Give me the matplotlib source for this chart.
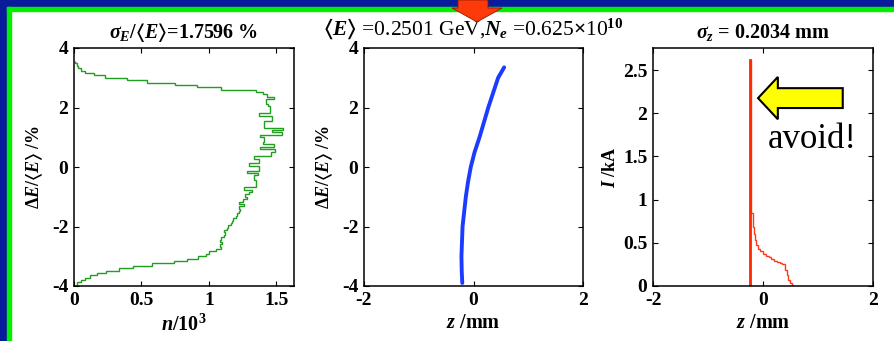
import matplotlib
matplotlib.use("Agg")
import matplotlib.pyplot as plt
from matplotlib.patches import Rectangle, Polygon, FancyArrow
import numpy as np

plt.rcParams["font.family"] = ["Liberation Serif", "DejaVu Serif"]
plt.rcParams["font.weight"] = "bold"
plt.rcParams["mathtext.fontset"] = "custom"
plt.rcParams["mathtext.rm"] = "Liberation Serif:bold"
plt.rcParams["mathtext.it"] = "Liberation Serif:italic:bold"
plt.rcParams["mathtext.bf"] = "Liberation Serif:bold"
plt.rcParams["mathtext.fallback"] = "stix"
plt.rcParams["axes.unicode_minus"] = False

# panel 1: energy histogram (n in 10^3 per bin), bins of 0.08 % from -3.96 to 3.56
e_edges = np.linspace(-3.96, 3.56, 95)
n_counts = [
    0.02, 0.05, 0.08, 0.12, 0.17, 0.24, 0.33, 0.44, 0.58, 0.74,
    0.84, 0.92, 0.98, 1.00, 1.05, 1.09, 1.08, 1.10, 1.08, 1.09,
    1.11, 1.12, 1.11, 1.13, 1.14, 1.16, 1.17, 1.18, 1.20, 1.21,
    1.22, 1.23, 1.22, 1.26, 1.22, 1.25, 1.28, 1.27, 1.30, 1.32,
    1.26, 1.35, 1.35, 1.35, 1.33, 1.33, 1.36, 1.28, 1.37, 1.37,
    1.30, 1.37, 1.37, 1.33, 1.46, 1.46, 1.49, 1.38, 1.48, 1.40,
    1.41, 1.41, 1.38, 1.54, 1.465, 1.55, 1.41, 1.41, 1.41, 1.465,
    1.465, 1.37, 1.45, 1.45, 1.45, 1.44, 1.42, 1.42, 1.48, 1.43,
    1.40, 1.35, 1.09, 0.91, 0.75, 0.54, 0.39, 0.23, 0.15, 0.08,
    0.05, 0.03, 0.02, 0.01,
]

# panel 2: longitudinal phase space (z in mm, dE/E in %)
ps_z = [-0.205, -0.215, -0.22, -0.21, -0.20, -0.17, -0.14, -0.10, -0.05,
        0.02, 0.11, 0.19, 0.27, 0.36, 0.45, 0.56]
ps_e = [-3.9, -3.5, -3.0, -2.5, -2.0, -1.5, -1.0, -0.5, 0.0,
        0.5, 1.0, 1.5, 2.0, 2.5, 3.0, 3.35]

# panel 3: current profile (z in mm, I in kA)
cur_edges = [-0.245, -0.225, -0.21, -0.19, -0.17, -0.15, -0.12, -0.09, -0.05, 0.0,
             0.05, 0.10, 0.15, 0.20, 0.25, 0.30, 0.35, 0.40, 0.43, 0.46, 0.49, 0.52, 0.55]
cur_vals = [2.62, 1.45, 0.85, 0.68, 0.60, 0.53, 0.47, 0.43, 0.40, 0.37, 0.35,
            0.33, 0.31, 0.29, 0.28, 0.27, 0.25, 0.19, 0.13, 0.07, 0.03, 0.01]

W, H = 894, 341
fig = plt.figure(figsize=(W / 100, H / 100), dpi=100)
fig.patch.set_facecolor("white")


def fx(px):
    return px / W


def fy(py):
    return 1 - py / H


# frame: blue band with green edge along top and left
blue = "#0a1c9c"
green = "#00f000"
fig.patches.append(Rectangle((0, fy(7)), 1, 7 / H, transform=fig.transFigure, color=blue, zorder=1))
fig.patches.append(Rectangle((0, 0), fx(6.5), 1, transform=fig.transFigure, color=blue, zorder=1))
fig.patches.append(Rectangle((fx(6.5), fy(11)), 1, 4 / H, transform=fig.transFigure, color=green, zorder=1))
fig.patches.append(Rectangle((fx(6.5), 0), fx(4.5), fy(7), transform=fig.transFigure, color=green, zorder=1))

# red arrow at top
arrow_px = [(458, 0), (488, 0), (488, 8), (502, 8), (477, 22), (452, 8), (458, 8)]
fig.patches.append(Polygon([(fx(x), fy(y)) for x, y in arrow_px], closed=True,
                           transform=fig.transFigure, facecolor="#ff3a0a",
                           edgecolor="#8a1a00", lw=0.6, zorder=2))

tick_kw = dict(direction="in", length=3.5, width=0.8, top=True, right=True,
               labelsize=14, pad=4)
lab_font = dict(fontsize=14.5, fontweight="bold")


def make_axes(left_px, right_px):
    ax = fig.add_axes([fx(left_px), fy(286), (right_px - left_px) / W, 238 / H])
    for s in ax.spines.values():
        s.set_linewidth(1.1)
    ax.tick_params(**tick_kw)
    return ax


# ---- panel 1
ax1 = make_axes(74, 294)
ax1.stairs(n_counts, e_edges, orientation="horizontal", baseline=None,
           color="#1f9e1f", lw=1.0)
ax1.set_xlim(0, 1.63)
ax1.set_ylim(-4, 4)
ax1.set_xticks([0, 0.5, 1, 1.5], ["0", "0.5", "1", "1.5"])
ax1.set_yticks([-4, -2, 0, 2, 4], ["-4", "-2", "0", "2", "4"])
ax1.set_xlabel(r"$n$/10$^3$", labelpad=4, **lab_font)
ax1.set_ylabel(r"$\Delta E/\langle E\rangle$ /%", labelpad=5, fontsize=13, fontweight="bold")
ax1.text(0.5, 1 + 10 / 238, r"$\sigma_E/\langle E\rangle$=1.7596 %", transform=ax1.transAxes,
         ha="center", va="baseline", fontsize=14.5, fontweight="bold")

# ---- panel 2
ax2 = make_axes(364, 583)
ax2.plot(ps_z, ps_e, color="#1a3cff", lw=2.8, solid_capstyle="round")
ax2.set_xlim(-2, 2)
ax2.set_ylim(-4, 4)
ax2.set_xticks([-2, 0, 2], ["-2", "0", "2"])
ax2.set_yticks([-4, -2, 0, 2, 4], ["-4", "-2", "0", "2", "4"])
ax2.set_xlabel(r"$z$ /mm", labelpad=3, **lab_font)
ax2.set_ylabel(r"$\Delta E/\langle E\rangle$ /%", labelpad=5, fontsize=13, fontweight="bold")
ax2.text(0.5, 1 + 13 / 238,
         r"$\langle E\rangle$ =0.2501 GeV,$N_e$ =0.625$\times$10$^{10}$",
         transform=ax2.transAxes, ha="center", va="baseline", fontsize=15.5,
         fontweight="normal")

# ---- panel 3
ax3 = make_axes(653, 873)
ax3.stairs(cur_vals, cur_edges, baseline=0, color="#ff3a1a", lw=1.0)
ax3.plot([cur_edges[0], cur_edges[0]], [0, cur_vals[0]], color="#ff2a00", lw=2.0)
ax3.set_xlim(-2, 2)
ax3.set_ylim(0, 2.755)
ax3.set_xticks([-2, 0, 2], ["-2", "0", "2"])
ax3.set_yticks([0, 0.5, 1, 1.5, 2, 2.5], ["0", "0.5", "1", "1.5", "2", "2.5"])
ax3.set_xlabel(r"$z$ /mm", labelpad=3, **lab_font)
ax3.set_ylabel(r"$I$ /kA", labelpad=3, fontsize=13, fontweight="bold")
ax3.text(0.5, 1 + 10 / 238, r"$\sigma_z$ = 0.2034 mm", transform=ax3.transAxes,
         ha="center", va="baseline", fontsize=14.5, fontweight="bold")

ax3.add_patch(FancyArrow(1.45, 2.175, -1.18, 0, width=0.23, head_width=0.49,
                         head_length=0.36, length_includes_head=False,
                         facecolor="#ffff00", edgecolor="black", lw=1.5, zorder=5))
ax3.text(0.09, 1.60, "avoid!", fontsize=25, fontweight="normal",
         ha="left", va="baseline", zorder=5)

fig.savefig("out.png", dpi=100)
